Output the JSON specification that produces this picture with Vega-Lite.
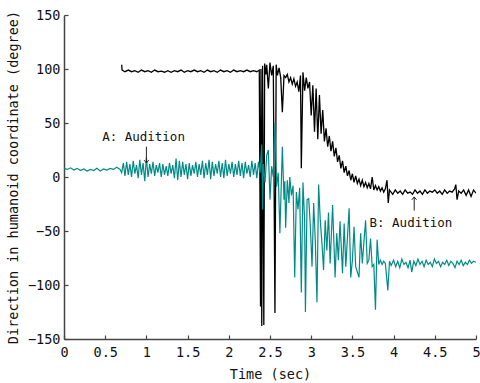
{
  "$schema": "https://vega.github.io/schema/vega-lite/v6.json",
  "width": 412,
  "height": 324,
  "autosize": "none",
  "padding": {"left": 64, "top": 15, "right": 4, "bottom": 44},
  "background": "white",
  "config": {
    "view": {"stroke": null},
    "axis": {
      "grid": false,
      "labelFlush": false,
      "domainColor": "#444444",
      "domainWidth": 1.5,
      "tickColor": "#444444",
      "tickSize": -4,
      "tickWidth": 1.2,
      "labelFont": "DejaVu Sans Mono",
      "labelFontSize": 13.5,
      "labelColor": "#111111",
      "titleFont": "DejaVu Sans Mono",
      "titleFontSize": 13.5,
      "titleFontWeight": "normal",
      "titleColor": "#111111"
    }
  },
  "datasets": {
    "black": [
      {"t":0.70,"v":104},{"t":0.705,"v":99},{"t":0.74,"v":97.5},{"t":0.78,"v":99},{"t":0.82,"v":97.5},{"t":0.86,"v":98.5},{"t":0.90,"v":97},{"t":0.94,"v":99},{"t":0.98,"v":97.5},{"t":1.02,"v":98.5},{"t":1.06,"v":97},{"t":1.10,"v":99},{"t":1.14,"v":97.5},{"t":1.18,"v":98},{"t":1.22,"v":97},{"t":1.26,"v":98.5},{"t":1.30,"v":97},{"t":1.34,"v":98.5},{"t":1.38,"v":97.5},{"t":1.42,"v":99},{"t":1.46,"v":97},{"t":1.50,"v":98.5},{"t":1.54,"v":97.5},{"t":1.58,"v":99},{"t":1.62,"v":97.5},{"t":1.66,"v":98.5},{"t":1.70,"v":97},{"t":1.74,"v":99},{"t":1.78,"v":97.5},{"t":1.82,"v":98.5},{"t":1.86,"v":97},{"t":1.90,"v":99},{"t":1.94,"v":97.5},{"t":1.98,"v":98.5},{"t":2.02,"v":97},{"t":2.06,"v":99},{"t":2.10,"v":97.5},{"t":2.14,"v":98.5},{"t":2.18,"v":97.5},{"t":2.22,"v":99},{"t":2.26,"v":97.5},{"t":2.30,"v":98.5},{"t":2.34,"v":97.5},{"t":2.37,"v":99},
      {"t":2.385,"v":-120},{"t":2.39,"v":100},{"t":2.40,"v":-138},{"t":2.41,"v":103},{"t":2.425,"v":-137},{"t":2.435,"v":105},{"t":2.45,"v":95},{"t":2.46,"v":104},{"t":2.48,"v":82},{"t":2.50,"v":106},{"t":2.52,"v":94},{"t":2.54,"v":103},{"t":2.56,"v":-126},{"t":2.575,"v":104},{"t":2.59,"v":94},{"t":2.61,"v":101},{"t":2.63,"v":92},{"t":2.65,"v":60},{"t":2.67,"v":94},{"t":2.69,"v":92},{"t":2.71,"v":95},{"t":2.73,"v":88},{"t":2.75,"v":92},{"t":2.77,"v":86},{"t":2.79,"v":91},{"t":2.81,"v":84},{"t":2.83,"v":88},{"t":2.85,"v":79},{"t":2.87,"v":94},{"t":2.88,"v":8},{"t":2.90,"v":97},{"t":2.92,"v":80},{"t":2.94,"v":92},{"t":2.96,"v":82},{"t":2.98,"v":88},{"t":3.00,"v":57},{"t":3.02,"v":85},{"t":3.04,"v":42},{"t":3.06,"v":82},{"t":3.08,"v":35},{"t":3.10,"v":76},{"t":3.12,"v":40},{"t":3.14,"v":62},{"t":3.16,"v":33},{"t":3.18,"v":45},{"t":3.20,"v":28},{"t":3.22,"v":38},{"t":3.24,"v":24},{"t":3.26,"v":33},{"t":3.28,"v":19},{"t":3.30,"v":27},{"t":3.32,"v":14},{"t":3.34,"v":20},{"t":3.36,"v":8},{"t":3.38,"v":15},{"t":3.40,"v":4},{"t":3.42,"v":10},{"t":3.44,"v":1},{"t":3.46,"v":6},{"t":3.48,"v":-3},{"t":3.50,"v":3},{"t":3.52,"v":-5},{"t":3.54,"v":1},{"t":3.56,"v":-6},{"t":3.58,"v":-2},{"t":3.60,"v":-8},{"t":3.62,"v":-3},{"t":3.64,"v":-9},{"t":3.66,"v":-5},{"t":3.68,"v":-10},{"t":3.70,"v":-6},{"t":3.72,"v":-11},{"t":3.74,"v":0},{"t":3.76,"v":-12},{"t":3.78,"v":-8},{"t":3.80,"v":-12},{"t":3.82,"v":-9},{"t":3.84,"v":-13},{"t":3.86,"v":-10},{"t":3.88,"v":-14},{"t":3.90,"v":-11},{"t":3.92,"v":-3},{"t":3.935,"v":-24},{"t":3.95,"v":-12},
      {"t":3.96,"v":-13},{"t":3.99,"v":-16},{"t":4.02,"v":-12},{"t":4.05,"v":-15},{"t":4.08,"v":-13},{"t":4.11,"v":-16},{"t":4.14,"v":-12},{"t":4.17,"v":-15},{"t":4.20,"v":-14},{"t":4.23,"v":-16},{"t":4.26,"v":-12},{"t":4.29,"v":-15},{"t":4.32,"v":-13},{"t":4.35,"v":-16},{"t":4.38,"v":-12},{"t":4.41,"v":-15},{"t":4.44,"v":-13},{"t":4.47,"v":-14},{"t":4.50,"v":-12},{"t":4.53,"v":-15},{"t":4.56,"v":-13},{"t":4.59,"v":-16},{"t":4.62,"v":-12},{"t":4.65,"v":-15},{"t":4.68,"v":-13},{"t":4.71,"v":-14},{"t":4.74,"v":-11},{"t":4.755,"v":-7},{"t":4.77,"v":-21},{"t":4.79,"v":-13},{"t":4.82,"v":-15},{"t":4.85,"v":-12},{"t":4.88,"v":-17},{"t":4.91,"v":-12},{"t":4.94,"v":-18},{"t":4.97,"v":-12},{"t":5.00,"v":-15}
    ],
    "teal": [
      {"t":0.00,"v":8},{"t":0.04,"v":7},{"t":0.08,"v":8.5},{"t":0.12,"v":6.5},{"t":0.16,"v":8},{"t":0.20,"v":6},{"t":0.24,"v":7.5},{"t":0.28,"v":5.5},{"t":0.32,"v":7},{"t":0.36,"v":6},{"t":0.40,"v":8},{"t":0.44,"v":5.5},{"t":0.48,"v":7.5},{"t":0.52,"v":6.5},{"t":0.56,"v":8},{"t":0.60,"v":7},{"t":0.64,"v":9},{"t":0.68,"v":7},
      {"t":0.70,"v":4},{"t":0.72,"v":13},{"t":0.74,"v":1},{"t":0.76,"v":14},{"t":0.78,"v":2},{"t":0.80,"v":12},{"t":0.82,"v":0},{"t":0.84,"v":15},{"t":0.86,"v":3},{"t":0.88,"v":11},{"t":0.90,"v":-1},{"t":0.92,"v":16},{"t":0.94,"v":2},{"t":0.96,"v":13},{"t":0.98,"v":-4},{"t":1.00,"v":18},{"t":1.02,"v":0},{"t":1.04,"v":12},{"t":1.06,"v":3},{"t":1.08,"v":14},{"t":1.10,"v":1},{"t":1.12,"v":11},{"t":1.14,"v":4},{"t":1.16,"v":13},{"t":1.18,"v":0},{"t":1.20,"v":12},{"t":1.22,"v":2},{"t":1.24,"v":10},{"t":1.26,"v":1},{"t":1.28,"v":13},{"t":1.30,"v":3},{"t":1.32,"v":11},{"t":1.34,"v":-1},{"t":1.36,"v":17},{"t":1.38,"v":-3},{"t":1.40,"v":15},{"t":1.42,"v":0},{"t":1.44,"v":14},{"t":1.46,"v":2},{"t":1.48,"v":12},{"t":1.50,"v":-2},{"t":1.52,"v":13},{"t":1.54,"v":1},{"t":1.56,"v":11},{"t":1.58,"v":3},{"t":1.60,"v":14},{"t":1.62,"v":0},{"t":1.64,"v":12},{"t":1.66,"v":2},{"t":1.68,"v":15},{"t":1.70,"v":-1},{"t":1.72,"v":13},{"t":1.74,"v":2},{"t":1.76,"v":16},{"t":1.78,"v":-2},{"t":1.80,"v":14},{"t":1.82,"v":1},{"t":1.84,"v":12},{"t":1.86,"v":3},{"t":1.88,"v":15},{"t":1.90,"v":0},{"t":1.92,"v":13},{"t":1.94,"v":-1},{"t":1.96,"v":16},{"t":1.98,"v":1},{"t":2.00,"v":12},{"t":2.02,"v":3},{"t":2.04,"v":14},{"t":2.06,"v":0},{"t":2.08,"v":12},{"t":2.10,"v":2},{"t":2.12,"v":15},{"t":2.14,"v":1},{"t":2.16,"v":13},{"t":2.18,"v":-1},{"t":2.20,"v":14},{"t":2.22,"v":3},{"t":2.24,"v":11},{"t":2.26,"v":0},{"t":2.28,"v":15},{"t":2.30,"v":2},{"t":2.32,"v":13},{"t":2.34,"v":-1},{"t":2.36,"v":14},{"t":2.38,"v":4},
      {"t":2.40,"v":30},{"t":2.41,"v":-30},{"t":2.42,"v":12},{"t":2.44,"v":-5},{"t":2.46,"v":20},{"t":2.48,"v":25},{"t":2.50,"v":-21},{"t":2.52,"v":10},{"t":2.54,"v":0},{"t":2.56,"v":50},{"t":2.58,"v":-9},{"t":2.60,"v":4},{"t":2.62,"v":-52},{"t":2.65,"v":28},{"t":2.67,"v":-21},{"t":2.68,"v":-4},{"t":2.69,"v":-47},{"t":2.71,"v":-3},{"t":2.73,"v":-24},{"t":2.74,"v":0},{"t":2.76,"v":-17},{"t":2.78,"v":-8},{"t":2.80,"v":-93},{"t":2.82,"v":-14},{"t":2.84,"v":-30},{"t":2.86,"v":-10},{"t":2.88,"v":-107},{"t":2.90,"v":-5},{"t":2.92,"v":-40},{"t":2.93,"v":-125},{"t":2.95,"v":-21},{"t":2.97,"v":-20},{"t":2.99,"v":-46},{"t":3.01,"v":-83},{"t":3.03,"v":-24},{"t":3.05,"v":-60},{"t":3.07,"v":-116},{"t":3.09,"v":-7},{"t":3.11,"v":-40},{"t":3.13,"v":-61},{"t":3.15,"v":-86},{"t":3.17,"v":-40},{"t":3.19,"v":-68},{"t":3.21,"v":-33},{"t":3.23,"v":-80},{"t":3.26,"v":-26},{"t":3.29,"v":-93},{"t":3.31,"v":-52},{"t":3.33,"v":-77},{"t":3.35,"v":-41},{"t":3.38,"v":-89},{"t":3.40,"v":-43},{"t":3.42,"v":-83},{"t":3.46,"v":-29},{"t":3.48,"v":-93},{"t":3.50,"v":-77},{"t":3.52,"v":-46},{"t":3.54,"v":-83},{"t":3.58,"v":-93},{"t":3.60,"v":-52},{"t":3.62,"v":-80},{"t":3.66,"v":-40},{"t":3.68,"v":-80},{"t":3.70,"v":-77},{"t":3.72,"v":-57},{"t":3.74,"v":-83},{"t":3.76,"v":-81},{"t":3.78,"v":-123},{"t":3.80,"v":-58},{"t":3.82,"v":-81},{"t":3.84,"v":-77},{"t":3.86,"v":-81},{"t":3.88,"v":-78},{"t":3.90,"v":-80},{"t":3.93,"v":-105},{"t":3.95,"v":-78},
      {"t":3.97,"v":-82},{"t":4.00,"v":-77},{"t":4.025,"v":-83},{"t":4.05,"v":-78},{"t":4.075,"v":-84},{"t":4.10,"v":-76},{"t":4.125,"v":-81},{"t":4.15,"v":-79},{"t":4.175,"v":-84},{"t":4.20,"v":-77},{"t":4.22,"v":-88},{"t":4.245,"v":-78},{"t":4.27,"v":-82},{"t":4.295,"v":-76},{"t":4.32,"v":-81},{"t":4.345,"v":-78},{"t":4.37,"v":-83},{"t":4.395,"v":-77},{"t":4.42,"v":-81},{"t":4.445,"v":-79},{"t":4.47,"v":-83},{"t":4.495,"v":-76},{"t":4.52,"v":-80},{"t":4.545,"v":-78},{"t":4.57,"v":-83},{"t":4.595,"v":-79},{"t":4.62,"v":-81},{"t":4.645,"v":-77},{"t":4.67,"v":-82},{"t":4.695,"v":-78},{"t":4.72,"v":-80},{"t":4.745,"v":-84},{"t":4.77,"v":-78},{"t":4.795,"v":-81},{"t":4.82,"v":-77},{"t":4.845,"v":-82},{"t":4.87,"v":-79},{"t":4.895,"v":-81},{"t":4.92,"v":-77},{"t":4.945,"v":-80},{"t":4.97,"v":-78},{"t":5.00,"v":-79}
    ],
    "notes": [
      {"t":0.965,"v":37,"label":"A: Audition"},
      {"t":4.21,"v":-43,"label":"B: Audition"}
    ],
    "arrows": [
      {"t":1.0,"v":28,"v2":13,"dir":"down"},
      {"t":4.25,"v":-31,"v2":-18.5,"dir":"up"}
    ]
  },
  "encoding": {
    "x": {
      "field": "t", "type": "quantitative",
      "scale": {"domain": [0, 5], "nice": false},
      "axis": {"title": "Time (sec)", "values": [0,0.5,1,1.5,2,2.5,3,3.5,4,4.5,5], "format": "~g", "labelPadding": 10, "titlePadding": 9}
    },
    "y": {
      "field": "v", "type": "quantitative",
      "scale": {"domain": [-150, 150], "nice": false},
      "axis": {"title": "Direction in humanoid coordinate (degree)", "values": [-150,-100,-50,0,50,100,150], "labelPadding": 8, "titlePadding": 7}
    }
  },
  "layer": [
    {
      "data": {"name": "black"},
      "mark": {"type": "line", "color": "#000000", "strokeWidth": 1.3, "clip": true}
    },
    {
      "data": {"name": "teal"},
      "mark": {"type": "line", "color": "#008B87", "strokeWidth": 1.2, "clip": true}
    },
    {
      "data": {"name": "notes"},
      "mark": {"type": "text", "font": "DejaVu Sans Mono", "fontSize": 12.5, "color": "#111111", "align": "center", "baseline": "middle"},
      "encoding": {
        "text": {"field": "label"}
      }
    },
    {
      "data": {"name": "arrows"},
      "mark": {"type": "rule", "color": "#222222", "strokeWidth": 1},
      "encoding": {
        "y2": {"field": "v2"}
      }
    },
    {
      "data": {"name": "arrows"},
      "transform": [{"filter": "datum.dir === 'down'"}],
      "mark": {"type": "point", "shape": "M-1,-1.2L0,0L1,-1.2", "filled": false, "stroke": "#222222", "strokeWidth": 1, "size": 22, "opacity": 1},
      "encoding": {
        "y": {"field": "v2", "type": "quantitative"}
      }
    },
    {
      "data": {"name": "arrows"},
      "transform": [{"filter": "datum.dir === 'up'"}],
      "mark": {"type": "point", "shape": "M-1,1.2L0,0L1,1.2", "filled": false, "stroke": "#222222", "strokeWidth": 1, "size": 22, "opacity": 1},
      "encoding": {
        "y": {"field": "v2", "type": "quantitative"}
      }
    }
  ]
}
